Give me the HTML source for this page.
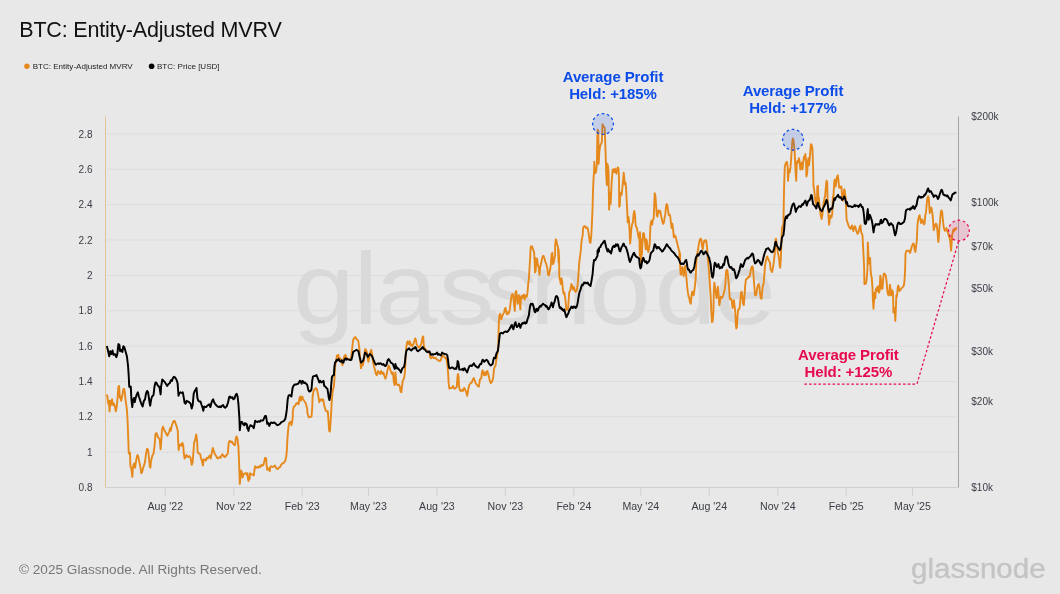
<!DOCTYPE html>
<html><head><meta charset="utf-8"><style>
html,body{margin:0;padding:0;background:#e8e8e8;width:1060px;height:594px;overflow:hidden}
svg{position:absolute;left:0;top:0}
text{font-family:"Liberation Sans",Arial,sans-serif}
.ax{font-size:10px;fill:#3a3d45}
.axx{font-size:10.6px;fill:#3a3d45}
.wm{font-size:102px;fill:#d9d9d9}
.an{font-size:15px;font-weight:bold;letter-spacing:-0.1px}
.t{font-size:21.5px;fill:#111;letter-spacing:-0.2px}
.lg{font-size:8.05px;fill:#222}
.ft{font-size:13.6px;fill:#777}
.lg2{font-size:28px;fill:#c4c4c4;stroke:#c4c4c4;stroke-width:0.35px}
</style></head><body>
<svg width="1060" height="594" viewBox="0 0 1060 594">
<text x="19.3" y="37.3" class="t">BTC: Entity-Adjusted MVRV</text>
<circle cx="26.9" cy="66.3" r="2.7" fill="#e6891c"/>
<text x="32.7" y="69.3" class="lg">BTC: Entity-Adjusted MVRV</text>
<circle cx="151.6" cy="66.3" r="2.8" fill="#000"/>
<text x="157" y="69.3" class="lg">BTC: Price [USD]</text>
<line x1="107" y1="452.1" x2="956.5" y2="452.1" stroke="#d2d2d2" stroke-width="1" stroke-dasharray="1 1"/>
<text x="92.5" y="455.8" text-anchor="end" class="ax">1</text>
<line x1="107" y1="416.8" x2="956.5" y2="416.8" stroke="#dddddd" stroke-width="1"/>
<text x="92.5" y="420.4" text-anchor="end" class="ax">1.2</text>
<line x1="107" y1="381.5" x2="956.5" y2="381.5" stroke="#dddddd" stroke-width="1"/>
<text x="92.5" y="385.1" text-anchor="end" class="ax">1.4</text>
<line x1="107" y1="346.1" x2="956.5" y2="346.1" stroke="#dddddd" stroke-width="1"/>
<text x="92.5" y="349.7" text-anchor="end" class="ax">1.6</text>
<line x1="107" y1="310.8" x2="956.5" y2="310.8" stroke="#dddddd" stroke-width="1"/>
<text x="92.5" y="314.4" text-anchor="end" class="ax">1.8</text>
<line x1="107" y1="275.4" x2="956.5" y2="275.4" stroke="#dddddd" stroke-width="1"/>
<text x="92.5" y="279.0" text-anchor="end" class="ax">2</text>
<line x1="107" y1="240.0" x2="956.5" y2="240.0" stroke="#dddddd" stroke-width="1"/>
<text x="92.5" y="243.6" text-anchor="end" class="ax">2.2</text>
<line x1="107" y1="204.7" x2="956.5" y2="204.7" stroke="#dddddd" stroke-width="1"/>
<text x="92.5" y="208.3" text-anchor="end" class="ax">2.4</text>
<line x1="107" y1="169.3" x2="956.5" y2="169.3" stroke="#dddddd" stroke-width="1"/>
<text x="92.5" y="172.9" text-anchor="end" class="ax">2.6</text>
<line x1="107" y1="134.0" x2="956.5" y2="134.0" stroke="#dddddd" stroke-width="1"/>
<text x="92.5" y="137.6" text-anchor="end" class="ax">2.8</text>
<text x="92.5" y="491.1" text-anchor="end" class="ax">0.8</text>
<line x1="106" y1="487.5" x2="958" y2="487.5" stroke="#d0d0d0" stroke-width="1"/>
<line x1="165.3" y1="488" x2="165.3" y2="496" stroke="#d0d0d0" stroke-width="1"/>
<text x="165.3" y="509.7" text-anchor="middle" class="axx">Aug '22</text>
<line x1="233.8" y1="488" x2="233.8" y2="496" stroke="#d0d0d0" stroke-width="1"/>
<text x="233.8" y="509.7" text-anchor="middle" class="axx">Nov '22</text>
<line x1="302.2" y1="488" x2="302.2" y2="496" stroke="#d0d0d0" stroke-width="1"/>
<text x="302.2" y="509.7" text-anchor="middle" class="axx">Feb '23</text>
<line x1="368.5" y1="488" x2="368.5" y2="496" stroke="#d0d0d0" stroke-width="1"/>
<text x="368.5" y="509.7" text-anchor="middle" class="axx">May '23</text>
<line x1="436.9" y1="488" x2="436.9" y2="496" stroke="#d0d0d0" stroke-width="1"/>
<text x="436.9" y="509.7" text-anchor="middle" class="axx">Aug '23</text>
<line x1="505.4" y1="488" x2="505.4" y2="496" stroke="#d0d0d0" stroke-width="1"/>
<text x="505.4" y="509.7" text-anchor="middle" class="axx">Nov '23</text>
<line x1="573.9" y1="488" x2="573.9" y2="496" stroke="#d0d0d0" stroke-width="1"/>
<text x="573.9" y="509.7" text-anchor="middle" class="axx">Feb '24</text>
<line x1="640.8" y1="488" x2="640.8" y2="496" stroke="#d0d0d0" stroke-width="1"/>
<text x="640.8" y="509.7" text-anchor="middle" class="axx">May '24</text>
<line x1="709.3" y1="488" x2="709.3" y2="496" stroke="#d0d0d0" stroke-width="1"/>
<text x="709.3" y="509.7" text-anchor="middle" class="axx">Aug '24</text>
<line x1="777.8" y1="488" x2="777.8" y2="496" stroke="#d0d0d0" stroke-width="1"/>
<text x="777.8" y="509.7" text-anchor="middle" class="axx">Nov '24</text>
<line x1="846.2" y1="488" x2="846.2" y2="496" stroke="#d0d0d0" stroke-width="1"/>
<text x="846.2" y="509.7" text-anchor="middle" class="axx">Feb '25</text>
<line x1="912.5" y1="488" x2="912.5" y2="496" stroke="#d0d0d0" stroke-width="1"/>
<text x="912.5" y="509.7" text-anchor="middle" class="axx">May '25</text>
<text x="971.3" y="120.1" class="ax">$200k</text>
<text x="971.3" y="205.8" class="ax">$100k</text>
<text x="971.3" y="249.9" class="ax">$70k</text>
<text x="971.3" y="291.5" class="ax">$50k</text>
<text x="971.3" y="354.7" class="ax">$30k</text>
<text x="971.3" y="404.9" class="ax">$20k</text>
<text x="971.3" y="490.6" class="ax">$10k</text>
<line x1="105.5" y1="116.5" x2="105.5" y2="487.5" stroke="#e3c393" stroke-width="1"/>
<line x1="958.5" y1="116.5" x2="958.5" y2="487.5" stroke="#a2a2a2" stroke-width="1"/>
<text transform="scale(1.09,1)" x="268.5 324.3 344.6 402.6 443.4 486.1 540.4 600.4 655.1" y="324.4" class="wm">glassnode</text>
<path d="M106.8 394.4 L107.4 396.5 L108.2 403.6 L108.8 400.8 L109.6 411.4 L110.3 400.8 L111.0 405.0 L112.0 399.3 L113.0 405.0 L113.9 403.6 L114.9 406.4 L115.8 411.4 L116.7 407.1 L117.7 396.5 L118.4 386.6 L119.1 385.9 L119.8 397.9 L120.5 396.5 L121.2 400.8 L122.4 395.1 L123.3 389.4 L124.1 388.7 L124.8 392.3 L125.5 399.3 L126.9 409.7 L127.6 421.0 L128.3 439.4 L128.7 452.1 L129.4 454.2 L130.0 452.8 L130.4 466.3 L131.1 467.7 L131.8 471.9 L132.3 476.9 L132.8 469.1 L133.4 464.9 L134.2 463.4 L135.1 467.7 L135.7 463.4 L136.5 458.5 L137.5 454.9 L138.2 456.4 L139.3 462.0 L140.3 466.3 L141.3 473.3 L142.2 471.9 L143.2 467.7 L144.2 464.9 L145.0 462.0 L146.0 453.5 L147.1 448.6 L148.1 450.0 L148.8 456.4 L149.8 466.3 L150.4 467.7 L150.9 462.0 L151.8 457.8 L152.6 454.9 L153.5 453.5 L154.5 446.4 L155.5 433.7 L156.6 433.0 L157.7 436.6 L158.7 438.0 L159.7 439.4 L160.6 449.3 L161.1 443.6 L162.0 429.5 L163.0 426.6 L164.0 429.5 L165.1 431.6 L166.2 433.7 L167.4 435.8 L168.2 433.7 L169.3 431.6 L170.2 428.1 L170.8 430.9 L171.5 426.6 L172.4 423.8 L173.6 421.0 L174.7 421.0 L175.7 423.8 L176.7 426.6 L177.8 430.9 L178.1 440.8 L178.7 450.0 L179.5 445.0 L180.7 444.3 L181.5 445.8 L182.4 442.9 L183.2 445.0 L183.8 453.5 L184.6 458.5 L185.6 457.1 L186.3 454.9 L187.4 456.4 L188.4 457.1 L189.4 456.1 L190.6 457.8 L191.7 464.9 L192.7 462.0 L193.4 452.1 L194.2 442.2 L195.1 440.1 L196.2 434.4 L197.1 440.8 L197.6 452.1 L198.5 453.5 L199.3 453.5 L200.2 454.2 L201.0 458.5 L201.9 460.6 L202.9 465.6 L203.6 459.2 L204.7 459.9 L205.8 460.6 L206.8 457.8 L207.8 458.5 L208.7 457.1 L209.7 455.6 L210.7 458.5 L211.8 452.8 L212.8 447.9 L213.9 451.4 L214.9 454.2 L215.8 455.6 L216.8 457.1 L217.7 458.5 L218.9 457.8 L219.7 457.1 L220.6 457.8 L221.4 455.6 L222.4 454.2 L223.4 455.6 L224.5 457.1 L225.7 456.4 L226.7 454.9 L227.8 453.5 L228.8 442.2 L229.8 440.8 L230.9 442.2 L231.9 441.5 L233.0 443.6 L234.2 445.0 L235.1 445.0 L235.8 438.0 L236.7 436.6 L237.6 439.4 L238.4 446.4 L239.0 460.6 L239.5 474.8 L239.8 483.9 L240.4 477.6 L240.9 470.5 L241.8 471.9 L242.6 477.6 L243.6 474.1 L245.0 473.3 L245.1 473.3 L246.1 473.1 L246.5 474.8 L247.1 474.8 L247.4 473.3 L247.8 477.6 L248.5 481.1 L248.6 480.4 L249.2 476.2 L249.7 479.0 L249.9 473.3 L251.4 474.1 L252.8 474.8 L253.8 475.5 L254.6 469.1 L255.2 466.3 L256.3 467.7 L257.4 467.0 L258.4 467.7 L259.1 466.3 L260.3 467.0 L261.3 464.9 L262.3 465.6 L263.4 464.9 L264.5 460.6 L265.2 457.8 L266.2 458.5 L266.6 464.9 L267.2 469.8 L268.1 468.4 L269.1 469.8 L269.8 471.2 L270.2 467.0 L271.2 466.3 L272.6 467.0 L274.0 466.3 L275.0 465.6 L275.9 467.7 L276.8 468.4 L277.8 469.1 L279.0 467.7 L280.1 467.0 L281.1 464.9 L282.5 463.4 L283.9 462.7 L285.3 460.6 L286.3 456.4 L286.9 449.3 L287.4 439.4 L288.2 429.5 L288.9 423.8 L289.7 422.4 L290.6 421.7 L291.4 425.2 L292.1 422.4 L292.8 416.7 L292.8 412.1 L293.4 408.2 L293.4 407.8 L294.2 406.4 L295.2 405.7 L296.2 403.6 L297.4 402.9 L298.5 404.3 L299.5 397.9 L300.2 396.5 L300.9 400.8 L301.6 397.9 L302.3 396.5 L303.0 399.3 L304.1 400.8 L305.1 402.2 L305.9 403.6 L306.6 406.4 L307.3 409.2 L307.3 412.5 L308.7 417.4 L311.5 416.7 L312.2 408.2 L312.6 396.5 L313.6 390.9 L314.6 389.4 L315.8 388.0 L316.9 389.4 L317.9 393.7 L318.6 397.9 L319.3 402.2 L320.0 400.1 L321.1 399.3 L322.1 400.8 L323.1 399.3 L324.0 403.6 L324.2 405.4 L324.9 407.8 L325.7 410.4 L325.9 410.7 L326.8 411.4 L327.8 412.1 L327.8 411.1 L328.5 421.0 L329.2 430.9 L329.9 431.6 L330.6 421.0 L331.3 409.7 L331.6 403.6 L332.4 393.7 L333.0 389.4 L333.9 386.6 L334.4 379.5 L335.0 368.2 L335.6 362.6 L336.3 359.7 L337.0 355.5 L337.7 357.6 L338.4 354.8 L339.1 359.7 L340.1 358.3 L341.2 359.7 L342.4 365.4 L343.4 360.4 L344.3 356.2 L345.5 354.8 L346.3 356.9 L347.2 358.3 L348.3 359.0 L349.4 359.7 L350.4 359.7 L351.4 355.5 L352.3 347.0 L353.2 339.9 L354.2 337.8 L355.4 337.1 L356.5 339.2 L357.5 339.9 L358.2 340.6 L359.1 346.3 L359.6 351.2 L360.3 361.1 L361.0 368.2 L361.8 364.0 L362.7 365.4 L363.9 361.1 L365.0 349.1 L366.0 349.8 L367.0 352.6 L367.8 359.7 L368.4 361.8 L369.2 357.6 L370.2 352.6 L371.2 349.8 L372.1 354.1 L373.1 362.6 L374.1 366.8 L374.9 369.6 L375.9 373.9 L376.9 375.3 L378.0 371.0 L379.1 372.4 L380.1 373.9 L381.1 371.0 L382.3 373.9 L383.4 372.4 L384.4 376.0 L385.4 378.8 L386.5 375.3 L387.6 369.6 L388.6 365.4 L389.6 367.5 L390.8 371.0 L391.9 373.9 L392.9 372.4 L393.9 382.4 L394.7 385.2 L395.4 372.4 L396.4 383.8 L397.1 384.5 L397.8 385.2 L398.8 384.5 L399.9 386.6 L400.6 391.6 L401.3 392.3 L402.0 386.6 L402.7 380.9 L403.4 379.5 L404.1 378.1 L404.9 372.4 L405.6 358.3 L406.3 347.0 L407.0 342.7 L407.7 341.3 L408.4 344.1 L409.1 343.4 L409.8 341.3 L410.5 345.6 L411.2 344.1 L412.4 346.3 L413.4 344.1 L414.3 341.3 L415.2 338.5 L415.9 339.9 L416.6 344.1 L417.3 345.6 L418.3 347.0 L419.3 347.7 L420.1 346.3 L421.1 344.1 L421.8 341.3 L422.6 337.1 L423.2 336.4 L423.7 344.1 L424.2 347.7 L425.4 349.1 L426.5 350.5 L427.5 351.2 L428.5 351.9 L429.6 353.4 L430.3 357.6 L431.0 358.3 L432.2 356.9 L433.2 357.6 L434.1 358.3 L435.3 357.6 L436.4 359.0 L437.4 359.7 L438.4 360.4 L439.5 361.1 L440.7 360.4 L441.6 357.6 L442.6 355.5 L443.8 356.2 L444.9 357.6 L445.9 358.3 L446.6 360.4 L447.3 364.0 L448.0 371.0 L448.7 383.8 L449.4 388.7 L450.6 388.0 L451.6 388.0 L452.3 387.3 L453.0 385.9 L453.7 388.0 L454.8 388.7 L455.8 388.0 L456.8 386.6 L457.5 376.7 L457.9 373.9 L458.6 376.7 L459.1 386.6 L459.8 390.1 L460.8 390.9 L461.9 390.1 L462.9 390.9 L463.6 388.7 L464.3 388.0 L465.0 389.4 L465.7 390.9 L466.4 392.3 L467.1 395.8 L467.8 392.3 L468.5 388.0 L469.5 384.5 L470.7 383.1 L471.8 382.4 L472.8 379.5 L473.8 378.1 L474.6 380.2 L475.6 383.1 L476.6 384.5 L477.7 385.9 L478.9 386.6 L479.9 379.5 L480.6 378.8 L481.3 378.1 L482.0 371.8 L482.7 370.3 L483.4 373.9 L484.1 375.3 L484.8 372.4 L485.8 375.3 L486.5 371.8 L487.4 371.0 L488.1 373.9 L488.8 376.0 L489.8 380.9 L490.8 383.1 L491.6 382.4 L492.6 380.2 L493.3 376.7 L494.0 368.9 L494.7 366.8 L495.4 366.1 L496.1 361.8 L496.8 356.9 L497.6 352.6 L498.2 347.0 L498.8 323.6 L499.3 316.5 L499.9 313.7 L500.6 315.1 L501.3 319.3 L502.0 316.5 L502.7 315.1 L503.4 313.7 L504.1 312.3 L504.9 308.7 L505.6 308.0 L506.3 312.3 L507.0 314.4 L507.7 312.3 L508.4 313.7 L509.1 312.3 L509.8 309.4 L510.5 303.8 L511.2 298.1 L511.9 294.6 L512.6 293.9 L513.4 296.7 L514.1 305.2 L514.8 310.9 L515.5 292.4 L516.2 291.0 L516.9 296.7 L517.6 303.8 L518.3 296.7 L519.0 295.3 L519.7 302.4 L520.4 309.4 L521.1 296.7 L521.8 296.0 L522.5 298.1 L523.2 295.3 L524.0 294.6 L524.7 299.5 L525.4 296.7 L526.1 295.3 L526.8 296.7 L527.5 292.4 L528.2 284.0 L528.9 278.3 L529.6 267.0 L530.3 255.7 L530.3 254.1 L530.8 246.4 L531.3 247.1 L532.2 246.4 L532.9 249.2 L533.6 250.7 L534.1 252.1 L534.6 261.3 L535.0 272.6 L535.0 257.7 L535.6 271.2 L536.4 261.3 L537.0 258.5 L537.8 264.1 L538.8 268.4 L539.5 274.8 L540.2 267.0 L541.2 262.7 L542.4 257.1 L543.5 255.7 L544.5 258.5 L545.2 261.3 L546.3 264.1 L547.3 268.4 L548.3 275.5 L549.1 274.8 L550.1 269.8 L550.9 264.1 L551.6 254.2 L552.3 252.8 L553.0 264.1 L553.7 262.7 L554.4 258.5 L554.4 257.7 L555.1 255.7 L555.1 246.4 L555.8 239.3 L556.5 240.8 L557.2 245.0 L557.9 246.4 L558.6 262.7 L558.6 249.2 L559.1 257.7 L559.3 276.9 L560.0 279.7 L560.8 284.0 L561.5 278.3 L562.2 281.8 L562.9 289.6 L563.6 293.9 L564.3 292.4 L565.0 296.7 L565.7 302.4 L566.1 308.0 L566.7 310.1 L567.5 309.4 L568.1 308.0 L568.7 299.5 L569.2 292.4 L570.0 291.0 L570.7 288.2 L571.4 284.0 L572.1 285.4 L572.8 289.6 L573.5 286.8 L574.2 288.2 L574.9 291.0 L575.6 291.8 L576.3 291.0 L577.0 289.6 L577.7 284.0 L578.4 275.5 L579.1 264.1 L579.9 257.1 L580.6 252.8 L581.3 243.6 L582.0 238.6 L582.7 235.1 L583.1 228.0 L583.7 226.6 L584.5 225.9 L585.1 226.6 L585.9 228.0 L586.9 227.3 L587.6 228.0 L588.4 232.3 L589.1 236.5 L589.8 242.2 L590.5 242.9 L591.2 236.5 L591.9 223.8 L592.5 209.6 L593.0 191.2 L593.6 177.1 L594.1 171.4 L594.3 161.7 L594.8 172.3 L595.5 173.0 L596.2 170.8 L596.9 163.8 L597.3 138.3 L597.7 129.8 L598.3 131.2 L598.7 163.8 L599.3 152.4 L600.0 146.8 L600.9 144.0 L601.8 142.6 L602.5 124.2 L603.2 125.6 L604.0 127.0 L604.7 127.7 L605.1 138.3 L605.7 156.7 L606.2 173.7 L606.8 185.0 L607.2 163.8 L607.8 165.2 L608.5 170.8 L609.1 209.6 L609.6 198.3 L610.0 192.6 L610.6 204.0 L611.1 194.1 L611.7 181.3 L612.7 169.4 L613.6 169.4 L614.1 172.3 L615.0 168.7 L615.6 170.8 L616.4 173.7 L617.0 169.4 L617.8 167.3 L618.4 168.0 L619.0 177.9 L619.2 206.8 L619.8 205.4 L620.2 195.5 L620.9 192.6 L621.6 194.8 L622.3 188.4 L623.0 181.3 L623.7 172.8 L624.1 175.7 L624.7 184.2 L625.6 182.7 L626.1 188.4 L626.7 201.1 L627.3 212.4 L627.7 222.4 L628.4 216.7 L629.0 220.9 L629.5 229.4 L630.1 243.6 L630.7 237.9 L631.2 229.4 L632.2 223.8 L632.9 222.4 L633.6 213.9 L634.3 211.0 L635.0 215.3 L635.5 223.8 L636.0 226.6 L636.9 228.0 L637.9 233.7 L638.6 237.9 L639.3 233.7 L639.8 255.7 L640.0 232.3 L640.5 259.9 L640.7 257.7 L641.2 262.7 L641.9 239.3 L641.9 254.2 L642.9 233.7 L643.8 233.0 L644.3 236.5 L645.2 243.6 L645.8 249.2 L646.3 239.3 L646.9 240.8 L647.6 249.2 L648.3 252.1 L649.0 249.2 L649.7 243.6 L650.4 226.6 L650.9 222.4 L651.4 220.9 L652.3 224.5 L652.8 219.5 L653.7 218.8 L654.2 205.4 L654.7 193.3 L655.4 195.5 L656.1 205.4 L656.8 215.3 L657.5 216.7 L658.2 211.0 L658.9 210.3 L659.6 212.4 L660.3 211.0 L661.0 215.3 L661.8 218.8 L662.5 222.4 L663.2 223.8 L663.9 222.4 L664.6 218.1 L665.3 213.9 L666.0 206.8 L666.7 204.0 L667.4 205.4 L668.1 211.0 L668.8 215.3 L669.5 214.6 L670.2 216.0 L670.9 222.4 L671.6 228.0 L672.4 223.8 L673.1 229.4 L673.8 237.2 L674.5 235.1 L675.2 235.8 L675.9 237.9 L676.6 240.8 L677.3 243.6 L678.0 246.4 L678.7 249.2 L679.4 251.4 L679.4 257.1 L680.1 253.5 L680.1 265.6 L680.6 274.1 L681.1 274.8 L681.7 268.4 L682.3 267.0 L683.0 271.2 L683.7 276.2 L684.4 269.8 L685.1 265.6 L685.8 272.6 L686.5 278.3 L687.2 286.8 L687.9 292.4 L688.6 296.7 L689.3 298.1 L690.0 302.4 L690.8 303.8 L691.5 295.3 L692.2 291.8 L692.9 293.9 L693.6 295.3 L694.3 291.0 L695.0 285.4 L695.7 278.3 L696.1 268.4 L696.7 258.5 L697.8 250.7 L698.5 246.4 L699.2 242.2 L700.0 239.3 L700.7 238.6 L701.4 240.1 L702.1 246.4 L702.8 249.2 L703.5 243.6 L704.2 240.8 L704.9 241.5 L705.6 240.1 L706.3 240.8 L707.0 246.4 L707.7 257.1 L708.4 264.1 L709.1 272.6 L709.9 285.4 L710.6 295.3 L711.3 310.9 L712.0 322.2 L712.7 320.8 L713.4 312.3 L713.8 292.4 L714.4 282.6 L715.1 288.2 L715.8 292.4 L716.5 298.1 L717.4 289.6 L717.9 286.8 L718.6 295.3 L719.3 305.2 L719.9 302.4 L720.8 296.7 L721.6 298.1 L722.6 296.7 L723.3 295.3 L724.0 292.4 L724.7 289.6 L725.4 284.0 L726.1 271.2 L726.8 269.8 L727.5 270.5 L728.2 278.3 L729.0 286.8 L729.7 298.1 L730.4 299.5 L731.1 298.8 L731.8 300.9 L732.5 308.0 L733.2 305.2 L733.9 300.2 L734.6 305.9 L735.3 312.3 L735.8 323.6 L736.3 328.5 L736.9 327.1 L737.5 316.5 L738.2 309.4 L738.9 309.4 L739.6 308.0 L740.3 300.9 L741.0 292.4 L741.7 291.8 L742.4 296.7 L743.1 303.8 L743.8 305.2 L744.5 296.7 L745.2 285.4 L745.9 279.7 L746.6 279.0 L747.4 278.3 L748.1 277.6 L748.8 276.2 L749.5 276.9 L750.2 274.1 L750.9 269.8 L751.6 267.0 L752.3 266.3 L753.0 268.4 L753.7 278.3 L754.4 286.8 L755.1 295.3 L755.9 295.3 L756.6 292.4 L757.3 287.5 L758.0 285.4 L758.7 284.0 L759.4 286.8 L760.1 293.9 L760.8 298.1 L761.5 298.8 L762.2 291.0 L762.9 285.4 L763.6 284.0 L764.3 275.5 L765.0 265.6 L765.8 261.3 L766.5 258.5 L767.2 256.4 L767.9 258.5 L768.6 259.9 L769.3 261.3 L770.0 262.7 L770.6 269.2 L771.3 270.7 L772.0 272.1 L772.7 269.2 L773.4 265.0 L774.1 259.3 L774.9 252.3 L775.6 239.5 L776.0 238.8 L776.7 243.8 L777.3 248.0 L777.8 252.3 L778.4 255.1 L779.1 259.3 L779.8 266.4 L780.2 267.8 L780.7 260.8 L781.2 249.4 L781.6 236.7 L781.9 228.2 L782.6 226.1 L783.4 224.7 L784.1 186.5 L784.8 166.7 L785.5 163.9 L786.2 162.4 L786.9 161.8 L787.6 166.7 L788.0 180.8 L788.6 173.8 L789.1 169.5 L789.7 172.4 L790.4 168.1 L791.1 159.6 L791.8 148.3 L792.3 141.2 L792.8 138.4 L793.4 139.8 L794.0 144.1 L794.7 152.6 L795.1 162.4 L795.7 173.8 L796.2 180.8 L796.8 162.4 L797.5 161.0 L798.2 162.4 L798.9 158.2 L799.6 161.0 L800.3 169.5 L801.0 168.1 L801.8 162.4 L802.5 169.5 L803.2 162.4 L803.9 156.8 L804.6 159.6 L805.3 154.0 L806.0 159.6 L806.4 176.6 L807.1 173.8 L807.8 162.4 L808.4 158.2 L809.0 165.3 L809.5 161.0 L810.2 152.6 L810.9 144.1 L811.6 144.8 L812.4 148.3 L813.1 166.7 L813.5 186.5 L814.1 189.3 L814.6 193.6 L814.9 198.5 L815.2 199.2 L815.6 202.7 L815.9 203.5 L816.3 205.6 L816.6 197.8 L817.0 202.7 L817.3 186.5 L817.7 198.5 L818.0 185.8 L818.3 195.7 L818.4 196.4 L818.9 198.5 L819.4 204.2 L820.1 211.2 L820.9 216.2 L821.6 219.0 L822.3 215.5 L823.0 208.4 L823.7 202.7 L824.4 199.2 L824.4 198.5 L825.1 196.4 L825.1 195.7 L825.8 187.9 L826.5 180.8 L827.2 182.3 L827.6 199.2 L827.9 204.2 L828.6 218.3 L829.1 224.7 L829.6 221.1 L830.2 215.5 L830.8 216.9 L831.5 217.6 L832.2 214.1 L832.9 196.4 L832.9 207.0 L833.6 193.6 L834.3 180.8 L835.0 179.4 L835.7 186.5 L836.4 180.8 L837.1 176.6 L837.8 175.2 L838.5 180.8 L839.2 187.9 L840.0 186.5 L840.7 187.9 L841.4 186.5 L842.1 196.4 L842.8 200.7 L843.5 193.6 L844.2 189.3 L844.9 190.8 L845.3 198.5 L845.6 196.4 L846.0 205.6 L846.6 219.7 L847.3 221.8 L848.0 224.0 L848.9 226.8 L849.9 228.2 L850.6 228.9 L851.3 226.8 L852.0 225.4 L852.7 228.2 L853.4 231.0 L854.1 228.2 L854.8 226.1 L855.5 227.5 L856.2 230.3 L856.9 232.4 L857.6 233.9 L858.4 232.4 L859.1 229.6 L859.8 226.8 L860.5 225.4 L860.8 229.6 L861.3 232.4 L861.9 233.9 L862.5 235.3 L863.0 245.2 L863.6 256.5 L864.1 266.4 L864.4 284.1 L865.0 284.1 L865.9 283.4 L866.4 281.2 L867.0 275.6 L867.5 268.5 L867.8 242.4 L868.2 249.4 L868.7 263.6 L869.7 260.8 L870.1 257.9 L870.7 271.3 L871.2 275.6 L871.8 278.4 L872.5 288.3 L872.9 299.6 L873.5 308.8 L874.1 299.6 L874.6 292.6 L875.3 298.2 L875.8 289.7 L876.3 288.3 L876.9 291.1 L877.5 286.9 L878.2 286.2 L878.9 292.6 L879.6 291.1 L880.3 275.6 L880.9 278.4 L881.4 288.3 L882.0 289.0 L882.5 288.3 L883.1 279.8 L883.7 274.1 L884.2 273.4 L884.8 274.1 L885.7 275.6 L886.2 278.4 L886.8 284.1 L887.4 291.1 L888.1 294.7 L888.8 295.4 L889.5 289.7 L889.9 284.8 L890.5 288.3 L891.0 295.4 L891.6 290.4 L892.3 290.4 L893.0 292.6 L893.4 312.4 L893.9 309.5 L894.4 308.1 L894.9 313.8 L895.3 320.9 L895.9 308.1 L896.3 295.4 L896.8 296.8 L897.3 292.6 L897.7 287.6 L898.2 285.5 L898.8 286.9 L899.4 291.1 L900.1 289.7 L900.8 289.7 L901.5 288.3 L902.2 287.6 L902.9 286.9 L903.6 286.2 L904.3 282.6 L904.8 275.6 L905.2 267.1 L905.5 253.7 L906.5 250.8 L907.9 250.8 L909.3 250.8 L910.0 253.0 L910.4 252.0 L911.1 249.2 L911.8 246.4 L912.5 244.9 L913.2 243.5 L913.9 244.2 L914.6 249.2 L915.4 252.0 L916.1 246.4 L916.8 240.7 L917.2 230.8 L917.6 223.7 L918.2 219.5 L918.9 216.7 L919.6 215.2 L920.3 218.8 L921.0 223.0 L921.7 220.9 L922.4 219.5 L923.1 222.3 L923.8 224.4 L924.5 223.7 L925.0 218.8 L925.2 215.2 L926.0 212.4 L926.7 203.9 L927.4 198.3 L928.1 196.2 L928.8 198.3 L929.2 205.3 L929.8 213.1 L930.3 211.0 L930.9 207.5 L931.5 208.2 L932.0 211.0 L932.6 215.2 L933.2 222.3 L933.7 230.1 L934.4 228.0 L935.1 225.2 L935.9 223.7 L936.6 224.4 L937.3 229.4 L938.0 239.3 L938.4 242.1 L939.0 235.1 L939.4 228.0 L940.1 220.9 L940.8 212.4 L941.5 210.3 L942.2 212.4 L942.9 219.5 L943.6 226.6 L944.3 229.4 L945.0 230.8 L945.8 230.1 L946.5 228.0 L947.2 230.8 L947.9 232.2 L948.6 235.1 L949.3 237.2 L950.0 239.3 L950.7 246.4 L951.1 250.6 L951.7 242.1 L952.1 235.1 L952.8 232.2 L953.5 229.4 L954.2 230.8 L955.0 228.7 L955.7 229.4 L956.4 227.3" fill="none" stroke="#e6891c" stroke-width="1.9" stroke-linejoin="round"/>
<path d="M106.8 345.9 L107.8 349.8 L109.2 356.2 L110.2 351.2 L111.3 354.1 L112.5 350.5 L113.4 354.8 L114.9 354.1 L116.3 357.2 L117.3 354.1 L118.4 344.1 L119.4 344.9 L120.1 351.2 L121.2 349.8 L122.4 351.9 L123.3 346.3 L124.3 347.0 L125.5 351.2 L126.9 356.2 L128.0 365.4 L128.7 375.3 L129.2 386.6 L130.0 387.3 L130.8 386.6 L131.4 399.3 L132.3 407.1 L133.0 400.1 L134.0 397.9 L134.7 402.2 L135.7 397.9 L136.8 394.4 L137.8 392.3 L138.9 396.5 L140.3 400.8 L141.8 405.0 L142.7 406.4 L143.9 400.8 L145.0 399.3 L146.0 393.7 L147.1 390.9 L148.1 392.3 L149.5 402.2 L150.2 405.7 L151.2 399.3 L152.1 396.5 L153.5 395.1 L154.5 386.6 L155.5 382.4 L156.6 383.1 L157.7 385.2 L158.7 386.6 L159.4 386.6 L160.6 394.4 L161.1 386.6 L162.3 379.5 L163.0 380.2 L164.4 381.6 L165.8 383.8 L167.2 385.9 L168.6 383.8 L169.8 383.1 L170.8 380.2 L171.9 380.9 L172.9 378.1 L173.9 376.7 L175.0 377.4 L176.4 379.5 L177.6 383.1 L178.5 395.8 L179.2 393.7 L180.4 392.3 L181.8 393.0 L182.8 392.3 L183.8 397.9 L184.6 402.9 L185.6 403.6 L186.6 400.8 L187.7 401.5 L189.2 402.2 L190.6 403.6 L191.7 408.5 L192.7 405.0 L193.7 393.7 L194.8 390.9 L195.9 389.4 L196.5 388.0 L197.4 397.9 L198.3 400.8 L199.3 401.5 L200.5 401.5 L201.6 405.0 L202.6 407.8 L203.3 410.7 L204.2 406.4 L205.0 407.1 L206.1 407.1 L207.3 405.7 L208.2 405.0 L209.2 404.3 L210.4 407.1 L211.4 402.9 L212.5 400.1 L213.2 399.3 L214.1 402.2 L214.9 403.6 L216.0 405.0 L217.4 406.4 L218.9 407.1 L220.0 406.4 L221.0 407.1 L222.0 405.7 L223.1 405.0 L224.2 407.1 L225.2 407.8 L226.7 406.4 L228.1 402.2 L229.1 397.2 L229.9 396.5 L230.9 397.9 L232.3 397.2 L233.3 399.3 L234.4 398.6 L235.6 395.1 L236.6 393.7 L237.6 396.5 L238.4 403.6 L239.4 418.1 L239.8 430.2 L240.8 422.4 L241.8 421.7 L242.9 423.8 L244.3 425.2 L245.0 423.1 L245.8 424.5 L246.4 423.8 L247.1 425.2 L247.2 428.1 L247.8 428.8 L248.5 430.9 L248.6 430.2 L249.2 427.4 L249.7 426.6 L250.4 425.2 L251.8 425.9 L252.8 426.6 L253.8 428.1 L254.6 423.8 L255.2 420.7 L256.3 421.7 L257.4 422.1 L258.4 421.3 L259.9 421.7 L260.9 420.3 L262.0 420.7 L263.1 420.3 L264.1 418.1 L265.1 416.0 L265.9 416.0 L266.6 419.6 L267.2 423.8 L268.4 423.1 L269.3 425.9 L270.2 423.8 L271.2 422.4 L272.6 423.1 L274.0 422.4 L275.0 423.1 L275.9 423.8 L276.8 424.9 L277.8 425.2 L279.0 424.5 L280.1 423.8 L281.1 422.4 L282.5 421.7 L283.9 421.0 L285.3 418.9 L286.0 415.3 L286.8 409.7 L287.7 399.3 L288.6 395.4 L289.6 395.1 L290.6 395.8 L291.4 396.5 L292.0 392.3 L292.6 388.0 L293.1 386.6 L293.8 385.5 L294.8 384.5 L295.9 384.5 L297.1 384.1 L298.1 383.8 L299.1 382.4 L299.9 380.7 L300.9 381.6 L301.6 383.8 L302.3 380.9 L303.3 381.6 L304.1 383.1 L305.1 382.6 L306.1 383.8 L307.0 384.5 L307.6 386.6 L308.4 390.1 L309.4 391.6 L310.4 391.1 L311.5 389.4 L312.2 380.9 L312.9 376.7 L314.1 376.0 L315.1 376.0 L316.5 375.0 L317.4 377.4 L318.3 379.5 L319.3 382.4 L320.3 380.9 L321.4 382.4 L322.6 381.6 L323.5 380.9 L324.2 385.9 L325.4 386.6 L326.4 388.0 L327.4 388.7 L328.2 393.7 L328.8 397.9 L329.5 400.1 L330.2 396.5 L330.8 390.9 L331.3 383.8 L332.0 376.7 L333.0 375.3 L333.9 375.3 L334.4 366.8 L335.0 362.6 L335.9 361.8 L336.7 359.7 L337.7 360.4 L338.7 359.0 L339.8 361.1 L340.9 361.8 L341.9 360.4 L342.6 362.6 L343.4 362.6 L344.3 359.7 L345.5 358.3 L346.3 359.7 L347.2 359.0 L348.3 359.4 L349.4 359.7 L350.4 360.0 L351.4 359.7 L352.3 356.2 L353.2 351.9 L354.2 351.2 L355.4 350.5 L356.5 349.8 L357.5 350.5 L358.5 351.2 L359.3 355.5 L360.3 359.7 L361.0 362.6 L362.2 361.8 L363.2 360.4 L364.1 356.9 L365.0 352.6 L366.0 353.4 L367.0 354.8 L367.8 356.9 L368.8 355.5 L369.8 354.1 L370.7 354.8 L371.6 355.5 L372.4 356.9 L373.1 359.0 L374.1 361.1 L374.9 363.2 L375.9 364.7 L376.9 364.0 L378.0 363.2 L379.1 364.0 L380.1 363.2 L381.1 363.7 L382.3 364.7 L383.4 364.0 L384.4 365.4 L385.4 366.1 L386.5 364.7 L387.6 360.4 L388.6 359.0 L389.6 360.4 L390.8 362.6 L391.9 363.2 L392.9 364.0 L393.9 366.8 L394.7 368.9 L395.4 364.0 L396.4 368.2 L397.4 367.5 L398.2 368.9 L399.2 369.6 L400.2 371.0 L401.0 372.4 L401.6 370.3 L402.4 368.2 L403.4 367.5 L404.1 366.8 L404.9 362.6 L405.6 355.5 L406.3 351.2 L407.0 349.8 L408.1 349.1 L409.1 348.4 L410.1 349.8 L411.2 350.5 L412.4 349.1 L413.4 348.4 L414.3 348.4 L415.2 347.0 L415.9 347.7 L416.9 350.5 L418.0 351.2 L419.0 350.5 L420.0 349.8 L420.9 349.1 L421.8 348.4 L422.6 347.0 L423.2 347.7 L424.0 349.1 L425.1 349.8 L426.1 351.2 L427.1 351.9 L428.2 351.9 L429.3 351.2 L430.3 353.4 L431.0 354.8 L432.2 354.1 L433.2 354.8 L434.1 354.1 L435.3 354.1 L436.4 353.4 L437.1 352.6 L437.8 354.8 L438.8 354.1 L439.8 354.8 L440.9 355.5 L442.1 352.6 L443.1 353.4 L444.1 353.8 L445.2 354.1 L446.3 354.1 L447.3 355.5 L448.0 359.7 L448.7 366.1 L449.4 368.2 L450.6 368.2 L451.6 367.5 L452.6 367.5 L453.4 368.2 L454.4 368.9 L455.4 368.2 L456.2 368.9 L457.2 365.4 L457.6 361.1 L458.2 361.8 L458.8 365.4 L459.3 369.6 L460.5 369.6 L461.5 369.6 L462.4 368.9 L463.3 370.3 L464.3 368.2 L465.0 368.9 L465.7 370.3 L466.4 371.0 L467.1 372.4 L467.8 370.3 L468.5 368.2 L469.5 366.1 L470.7 365.4 L471.8 366.1 L472.8 364.7 L473.8 363.2 L474.6 364.7 L475.6 366.1 L476.6 366.8 L477.4 367.5 L478.4 367.5 L479.4 365.4 L480.3 364.0 L481.3 364.0 L482.0 361.1 L482.7 359.7 L483.4 360.4 L484.1 361.8 L484.8 361.1 L485.8 360.4 L486.5 359.7 L487.4 360.4 L488.1 361.8 L488.8 363.2 L489.8 364.7 L490.8 365.4 L491.6 364.7 L492.6 364.0 L493.3 360.4 L494.0 357.6 L494.7 357.6 L495.4 358.3 L496.1 354.8 L496.8 352.6 L497.8 351.2 L498.4 347.0 L499.9 333.5 L501.3 332.8 L502.7 333.5 L504.1 332.1 L505.6 331.4 L507.0 332.1 L508.4 330.7 L509.8 328.5 L511.2 325.7 L511.9 325.0 L512.6 327.8 L513.4 329.2 L514.1 326.4 L514.8 323.6 L515.5 322.2 L516.2 325.0 L516.9 327.1 L517.6 326.4 L518.3 325.7 L519.0 323.6 L519.7 326.4 L520.4 327.8 L521.1 325.0 L521.8 324.3 L522.5 322.9 L523.2 323.6 L524.0 322.9 L524.7 322.2 L525.4 323.6 L526.5 322.9 L527.5 319.3 L528.2 317.2 L528.9 315.1 L529.6 309.4 L530.3 305.2 L531.0 303.8 L531.8 304.5 L532.5 303.8 L533.2 305.2 L533.9 308.0 L534.6 311.6 L535.3 312.3 L536.0 309.4 L536.7 308.7 L537.4 310.9 L538.1 310.1 L538.8 308.0 L539.5 306.6 L540.2 305.9 L540.9 306.6 L541.6 305.2 L542.4 304.5 L543.1 303.8 L543.8 304.5 L545.2 305.2 L545.9 306.6 L546.6 305.9 L547.3 307.3 L548.0 308.7 L548.7 309.4 L549.4 308.0 L550.1 306.6 L550.9 304.5 L551.6 302.4 L552.3 305.2 L553.0 307.3 L553.7 303.8 L554.4 302.4 L555.1 299.5 L555.8 296.7 L556.5 296.0 L557.2 296.7 L557.9 298.1 L558.6 302.4 L559.3 306.6 L560.0 308.0 L560.8 307.3 L561.5 309.4 L562.2 308.7 L562.9 310.1 L563.6 310.9 L564.3 309.4 L565.0 312.3 L565.7 315.1 L566.4 317.2 L567.1 315.8 L567.8 314.4 L568.5 313.0 L569.0 310.9 L570.0 309.4 L570.7 308.0 L571.4 306.6 L572.1 307.3 L572.8 308.0 L573.5 306.6 L574.2 307.3 L574.9 306.6 L575.6 308.0 L576.3 307.3 L577.0 305.9 L577.7 302.4 L578.4 298.1 L579.1 293.9 L579.9 291.0 L580.6 289.6 L581.3 286.8 L582.0 284.7 L582.7 285.4 L583.4 284.0 L584.1 282.6 L584.8 283.2 L585.5 282.6 L586.2 283.2 L586.9 283.2 L587.6 282.6 L588.4 284.0 L589.1 284.7 L589.8 285.4 L590.5 286.1 L591.2 282.6 L591.9 278.3 L592.6 274.1 L593.3 265.6 L594.0 259.9 L594.7 260.6 L595.4 259.9 L596.1 258.5 L596.8 257.1 L597.5 255.7 L597.5 250.7 L598.2 252.8 L598.2 249.2 L599.0 251.4 L599.0 248.5 L599.7 247.1 L600.4 247.1 L601.1 245.0 L601.8 244.3 L602.5 243.6 L603.2 242.2 L603.9 241.5 L604.6 240.8 L605.3 243.6 L606.0 246.4 L606.8 249.2 L607.5 251.4 L608.2 249.2 L608.9 250.7 L609.6 252.1 L610.3 251.4 L611.0 253.5 L611.7 250.7 L612.4 247.8 L613.1 246.4 L613.8 245.7 L614.5 247.1 L615.2 246.4 L615.9 244.3 L616.6 245.7 L617.4 244.3 L618.1 245.0 L618.8 247.8 L619.5 250.7 L620.2 251.4 L620.9 249.2 L621.6 247.1 L622.3 246.4 L623.0 244.3 L623.7 243.6 L624.4 245.7 L625.1 246.4 L625.9 247.1 L626.6 249.2 L627.3 251.4 L628.0 254.1 L629.2 259.9 L629.9 262.0 L630.6 260.6 L631.3 258.5 L632.5 255.7 L633.4 253.5 L634.1 252.8 L634.9 254.9 L635.9 256.4 L637.0 257.1 L638.1 257.8 L639.1 258.5 L639.8 265.6 L640.5 268.4 L641.2 267.0 L641.9 262.7 L642.6 259.2 L643.4 257.8 L644.3 260.6 L645.2 262.0 L646.2 261.3 L646.9 263.4 L647.6 262.7 L648.3 262.0 L649.0 261.3 L649.7 259.2 L650.4 254.9 L651.1 252.8 L651.8 252.1 L652.5 251.4 L653.2 250.7 L654.0 247.1 L654.7 244.3 L655.4 245.0 L656.1 247.1 L656.8 248.5 L657.5 247.1 L658.2 247.8 L658.9 247.1 L659.6 248.5 L660.3 249.2 L661.0 249.9 L661.8 251.4 L662.5 251.4 L663.2 250.7 L663.9 249.2 L664.6 248.5 L665.3 247.1 L666.0 245.7 L666.7 244.3 L667.4 245.0 L668.1 246.4 L668.8 247.1 L669.5 247.8 L670.2 248.5 L670.9 249.9 L671.6 250.7 L672.4 251.4 L673.1 252.1 L673.8 252.8 L674.5 253.5 L675.2 254.9 L676.6 256.4 L678.0 257.8 L679.1 259.9 L680.1 262.7 L681.1 264.1 L682.3 263.4 L683.4 264.1 L684.4 262.7 L685.4 260.6 L686.2 259.9 L686.8 262.7 L687.4 267.0 L688.2 269.8 L689.1 269.8 L690.0 271.9 L690.8 272.6 L691.5 271.2 L692.5 270.5 L693.3 269.8 L694.3 267.0 L695.0 262.7 L695.7 258.5 L696.4 256.4 L697.1 255.7 L697.8 254.2 L698.5 255.7 L699.2 254.2 L700.0 252.8 L700.7 251.4 L701.4 250.7 L702.1 251.4 L702.8 252.8 L703.5 254.2 L704.2 253.5 L704.9 252.8 L705.6 251.4 L706.6 252.8 L707.7 254.9 L708.4 256.4 L709.1 257.8 L709.9 261.3 L710.6 264.1 L711.3 271.2 L712.0 276.2 L712.7 277.6 L713.4 274.8 L714.1 267.0 L714.8 262.7 L715.5 263.4 L716.2 265.6 L716.9 267.0 L717.6 265.6 L718.4 264.1 L719.1 267.0 L719.8 268.4 L720.5 267.7 L721.2 267.0 L721.9 267.7 L722.6 266.3 L723.3 264.1 L724.0 264.9 L724.7 261.3 L725.4 257.8 L726.1 256.4 L726.8 256.4 L727.5 258.5 L728.2 262.7 L729.0 265.6 L729.7 267.0 L730.4 267.7 L731.1 267.0 L731.8 267.7 L732.5 269.8 L733.2 269.8 L733.9 269.1 L734.6 271.2 L735.3 274.1 L735.8 276.9 L736.3 278.3 L737.2 276.9 L738.2 274.1 L738.9 271.9 L739.6 269.8 L740.3 266.3 L741.0 264.1 L741.7 265.6 L742.4 267.0 L743.1 266.3 L743.8 264.1 L744.5 262.0 L745.2 259.9 L745.9 259.2 L746.6 258.5 L747.4 257.8 L748.1 258.5 L748.8 257.8 L749.5 257.1 L750.2 256.4 L750.9 255.7 L751.6 254.2 L752.3 253.5 L753.0 254.2 L753.7 257.8 L754.4 261.3 L755.1 263.4 L755.9 262.7 L756.6 262.0 L757.3 260.6 L758.0 259.9 L758.7 260.6 L759.4 261.3 L760.1 262.7 L760.8 264.1 L761.5 264.9 L762.2 262.7 L762.9 259.9 L763.6 257.1 L764.3 254.2 L765.0 252.1 L765.8 250.7 L765.9 249.4 L767.1 248.7 L768.2 248.0 L769.2 249.4 L770.2 250.8 L771.0 251.6 L772.0 252.3 L773.0 251.6 L773.9 249.4 L774.6 246.6 L775.3 242.4 L775.9 241.7 L776.4 243.8 L777.0 245.9 L777.7 246.6 L778.4 248.0 L779.1 249.4 L779.8 250.1 L780.5 248.7 L781.2 243.8 L781.9 238.1 L782.6 236.0 L783.4 235.3 L784.1 229.6 L784.8 221.1 L785.5 217.6 L786.2 216.2 L786.9 218.3 L787.6 216.2 L788.3 214.8 L789.4 214.8 L790.4 213.3 L791.1 209.8 L791.8 207.0 L792.8 204.2 L793.7 203.4 L794.4 204.9 L795.1 208.4 L795.8 211.9 L796.5 209.8 L797.1 208.4 L797.9 207.7 L798.9 206.3 L799.9 206.3 L800.8 207.0 L801.5 205.6 L802.2 204.2 L802.9 204.9 L803.6 203.4 L804.6 202.0 L805.3 200.6 L806.0 202.0 L806.7 205.6 L807.4 203.4 L808.1 201.3 L808.8 200.6 L809.8 199.9 L810.7 197.1 L811.2 194.9 L811.8 195.7 L812.4 199.9 L813.1 204.2 L813.8 204.9 L814.5 205.6 L815.5 207.0 L816.3 208.4 L817.3 204.2 L818.0 202.7 L818.7 205.6 L819.4 207.7 L820.1 209.1 L821.1 210.5 L822.0 211.2 L822.5 209.8 L823.4 207.7 L824.4 205.6 L825.1 204.2 L825.8 202.0 L826.5 199.9 L827.2 201.3 L827.9 205.6 L828.6 209.8 L829.3 211.9 L830.0 209.8 L830.8 208.4 L831.5 209.1 L832.2 208.4 L832.9 205.6 L833.6 201.3 L834.3 198.5 L835.0 199.9 L835.7 197.8 L836.4 197.1 L837.5 195.7 L838.1 194.9 L839.0 197.1 L840.0 197.8 L840.7 197.1 L841.4 198.5 L842.1 199.9 L842.8 199.2 L843.5 198.5 L844.2 196.4 L844.9 197.8 L845.6 200.6 L846.3 203.4 L847.0 202.0 L847.7 205.6 L848.4 206.3 L849.4 206.3 L850.6 206.3 L851.7 207.0 L852.7 207.0 L853.7 206.3 L854.8 204.9 L855.5 206.3 L856.2 205.6 L857.4 205.6 L858.4 207.0 L859.1 206.3 L859.8 204.9 L860.5 204.2 L861.2 205.6 L861.9 207.0 L862.6 207.0 L863.3 209.8 L864.0 215.5 L864.7 223.2 L865.4 224.0 L866.1 223.2 L866.8 219.0 L867.3 212.6 L867.8 209.1 L868.2 215.5 L868.7 219.7 L869.2 217.6 L869.8 214.8 L870.4 216.2 L871.1 218.3 L871.8 220.4 L872.5 224.0 L873.2 229.6 L873.6 232.4 L874.1 228.2 L874.6 226.8 L875.3 224.7 L876.0 224.0 L877.2 224.7 L878.2 224.0 L879.1 224.7 L880.0 223.2 L880.6 220.4 L881.1 219.7 L881.7 223.2 L882.4 222.6 L883.1 221.8 L883.8 219.7 L884.5 219.0 L885.7 219.0 L886.6 219.7 L887.4 221.1 L888.1 223.2 L888.8 224.7 L889.5 225.4 L890.2 224.0 L890.9 223.2 L891.6 224.0 L892.3 224.7 L893.0 225.4 L893.7 228.9 L894.4 232.4 L895.1 235.3 L895.9 233.2 L896.6 229.6 L897.3 225.4 L898.0 223.2 L898.7 222.6 L899.4 223.2 L900.1 224.0 L901.2 224.0 L902.2 223.2 L903.2 222.6 L904.1 221.8 L905.0 218.3 L905.8 211.2 L906.5 209.8 L907.9 209.1 L909.3 209.1 L910.0 209.8 L910.4 208.2 L911.1 208.9 L911.8 208.2 L912.5 206.8 L913.2 206.1 L913.9 208.2 L914.6 208.9 L915.4 206.8 L916.1 206.1 L916.8 203.9 L917.5 199.7 L918.2 197.6 L918.9 196.2 L919.6 196.9 L920.3 197.6 L921.0 196.9 L921.7 197.6 L922.4 196.9 L923.1 196.9 L923.8 196.2 L924.5 194.8 L925.2 194.8 L926.0 193.3 L926.7 191.9 L927.4 189.8 L928.1 188.4 L928.8 190.5 L929.5 191.9 L930.2 191.2 L930.9 191.2 L931.6 192.6 L932.3 194.0 L933.0 194.8 L933.7 196.9 L934.4 196.2 L935.1 195.4 L935.9 195.4 L936.6 196.2 L937.3 197.6 L938.0 199.0 L938.7 197.6 L939.4 195.4 L940.1 193.3 L940.8 191.2 L941.5 189.8 L942.2 190.5 L942.9 193.3 L943.6 194.8 L944.3 194.8 L945.0 195.4 L945.8 195.4 L946.5 196.2 L947.2 195.4 L947.9 196.2 L948.6 197.6 L949.3 198.3 L950.0 199.0 L950.7 200.4 L951.4 198.3 L952.1 195.4 L952.8 194.0 L953.5 194.0 L954.2 193.3 L955.0 192.6 L955.7 192.6 L956.4 192.3" fill="none" stroke="#000" stroke-width="1.95" stroke-linejoin="round"/>
<circle cx="603" cy="124" r="10.4" fill="#0c4ce8" fill-opacity="0.16" stroke="#0c4ce8" stroke-width="1.3" pathLength="60" stroke-dasharray="2.5 2.5" stroke-dashoffset="1.25"/>
<circle cx="793" cy="139.7" r="10.4" fill="#0c4ce8" fill-opacity="0.16" stroke="#0c4ce8" stroke-width="1.3" pathLength="60" stroke-dasharray="2.5 2.5" stroke-dashoffset="1.25"/>
<circle cx="958.9" cy="230.6" r="10.4" fill="#e80a4e" fill-opacity="0.15" stroke="#e80a4e" stroke-width="1.3" pathLength="60" stroke-dasharray="2.5 2.5" stroke-dashoffset="1.25"/>
<polyline points="958.5,241.5 917,384 804.3,384" fill="none" stroke="#e80a4e" stroke-width="1.25" stroke-dasharray="2.6 2.1"/>
<text x="613" y="81.5" text-anchor="middle" class="an" fill="#0c4ce8">Average Profit</text><text x="613" y="99.0" text-anchor="middle" class="an" fill="#0c4ce8">Held: +185%</text>
<text x="793" y="95.8" text-anchor="middle" class="an" fill="#0c4ce8">Average Profit</text><text x="793" y="113.2" text-anchor="middle" class="an" fill="#0c4ce8">Held: +177%</text>
<text x="848.4" y="359.9" text-anchor="middle" class="an" fill="#e80a4e">Average Profit</text><text x="848.4" y="377.1" text-anchor="middle" class="an" fill="#e80a4e">Held: +125%</text>
<text x="19" y="574" class="ft">© 2025 Glassnode. All Rights Reserved.</text>
<text transform="translate(911,0) scale(1.055,1)" x="0" y="577.5" class="lg2">glassnode</text>
</svg>
</body></html>
